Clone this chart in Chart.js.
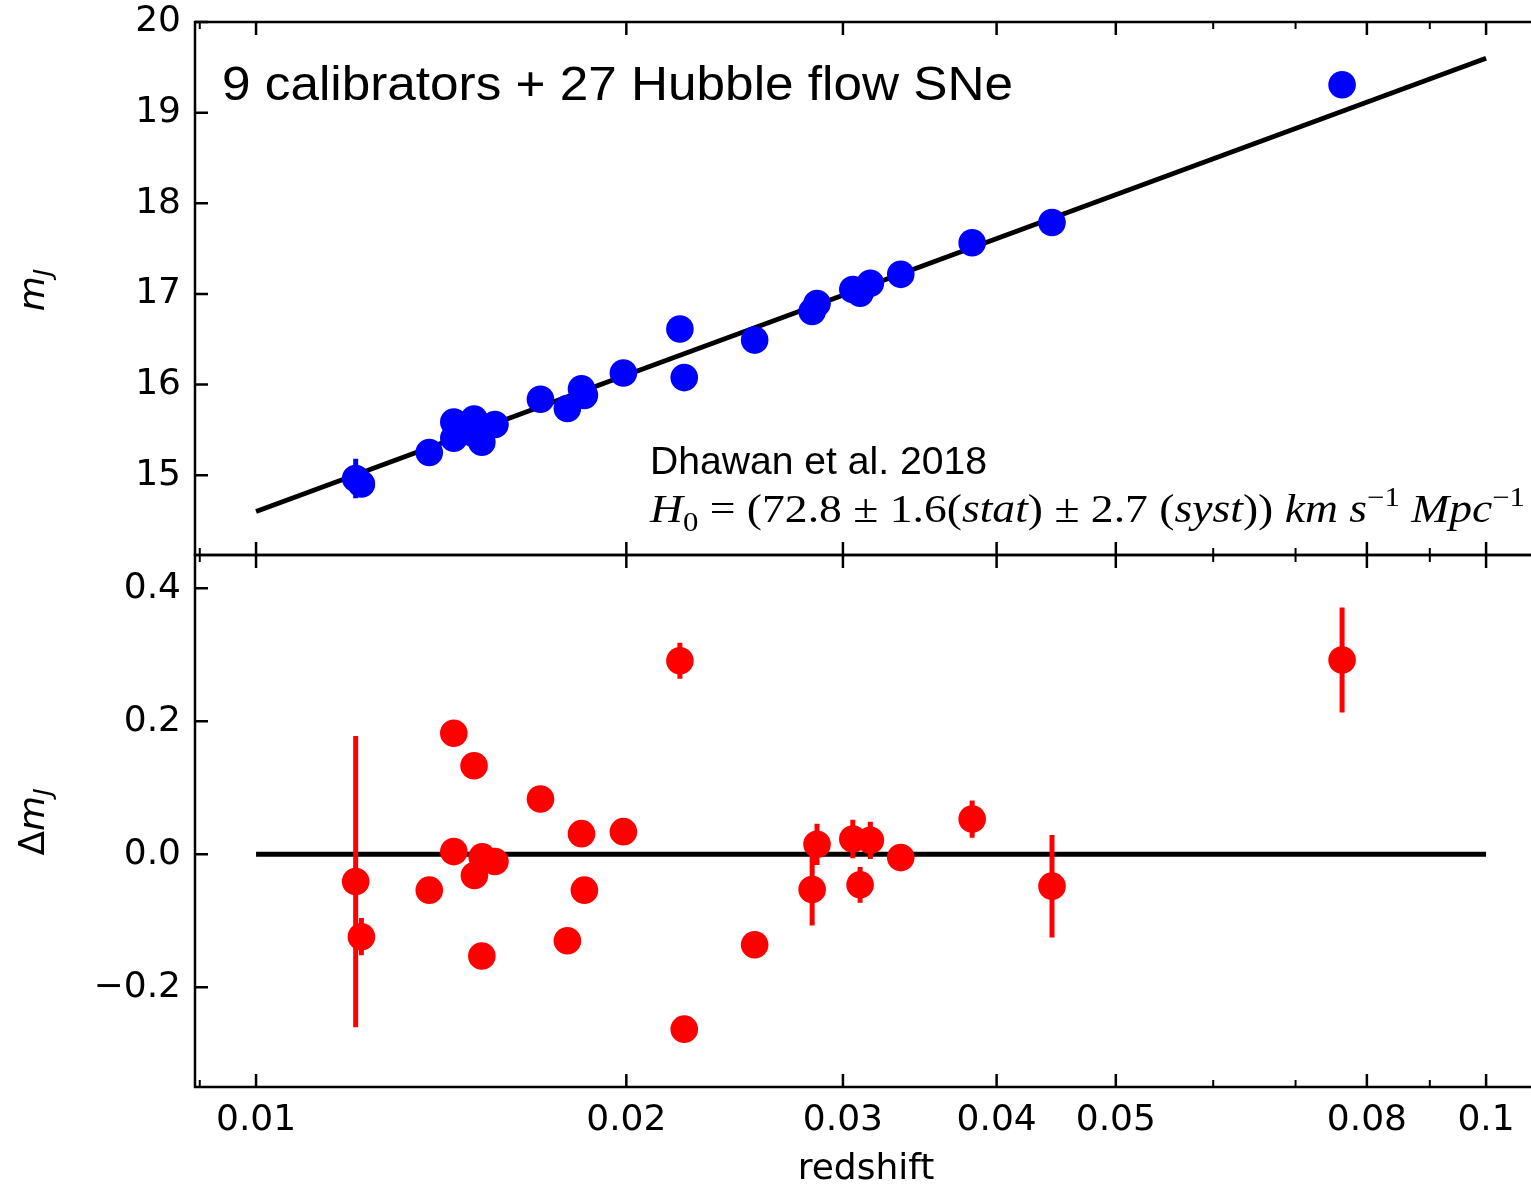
<!DOCTYPE html>
<html>
<head>
<meta charset="utf-8">
<script src="https://cdn.jsdelivr.net/npm/chart.js@4.4.1/dist/chart.umd.min.js"></script>
<style>
html,body{margin:0;padding:0;background:#fff;overflow:hidden;}
#wrap{position:relative;width:1531px;height:1191px;overflow:hidden;background:#fff;}
#c1{position:absolute;left:0;top:-20px;}
#c2{position:absolute;left:0;top:515px;}
</style>
</head>
<body>
<div id="wrap">
<canvas id="c1" width="1560" height="620"></canvas>
<canvas id="c2" width="1560" height="676"></canvas>
</div>
<script>
// ---- data ----
const redshift = [0.01205, 0.01218, 0.01383, 0.01448, 0.01448, 0.01504, 0.01505, 0.01527, 0.01526, 0.01564,
                  0.01703, 0.01791, 0.01839, 0.01849, 0.01989, 0.02211, 0.02229, 0.02543, 0.02832, 0.02858,
                  0.03056, 0.03098, 0.03158, 0.03343, 0.03821, 0.04437, 0.07637];
const mJ       = [14.964, 14.904, 15.251, 15.586, 15.408, 15.619, 15.456, 15.515, 15.365, 15.560,
                  15.839, 15.736, 15.954, 15.881, 16.127, 16.614, 16.077, 16.491, 16.807, 16.895,
                  17.049, 17.009, 17.118, 17.216, 17.564, 17.788, 19.307];
const dmJ      = [-0.041, -0.124, -0.054, 0.182, 0.004, 0.133, -0.032, -0.004, -0.153, -0.011,
                  0.083, -0.130, 0.031, -0.054, 0.034, 0.291, -0.263, -0.136, -0.053, 0.015,
                  0.023, -0.046, 0.021, -0.005, 0.053, -0.048, 0.292];
const errJ     = [0.219, 0.028, 0.012, 0.012, 0.012, 0.012, 0.012, 0.012, 0.012, 0.012,
                  0.012, 0.012, 0.012, 0.012, 0.012, 0.027, 0.012, 0.012, 0.054, 0.031,
                  0.029, 0.027, 0.028, 0.012, 0.028, 0.077, 0.079];
const fitZ     = [0.01, 0.1];
const fitM     = [14.6, 19.6];
const zeroLine = [0, 0];

const xTickValues = [0.01, 0.02, 0.03, 0.04, 0.05, 0.08, 0.1];
const xTickLabels = ['0.01', '0.02', '0.03', '0.04', '0.05', '0.08', '0.1'];
const xMinorTicks = [0.009, 0.06, 0.07, 0.09];
const yTopTicks   = [15, 16, 17, 18, 19, 20];
const yTopLabels  = ['15', '16', '17', '18', '19', '20'];
const yBotTicks   = [-0.2, 0, 0.2, 0.4];
const yBotLabels  = ['\u22120.2', '0.0', '0.2', '0.4'];

const titleText  = '9 calibrators + 27 Hubble flow SNe';
const refText    = 'Dhawan et al. 2018';
const xAxisTitle = 'redshift';

// ---- helpers ----
const TOP_OFF = 20;    // canvas 1 starts 20px above the page
const BOT_OFF = 515;   // canvas 2 starts at y = 515
const TICKFONT = {family: "'DejaVu Sans'", size: 36};
function errData(vals) {
  const out = [];
  redshift.forEach((z, i) => {
    out.push({x: z, y: vals[i] - errJ[i]});
    out.push({x: z, y: vals[i] + errJ[i]});
    out.push({x: z, y: null});
  });
  return out;
}
function drawRuns(ctx, runs, x, y, targetW, center) {
  let total = 0;
  runs.forEach(r => { ctx.font = r.font; r.w = ctx.measureText(r.t).width; total += r.w; });
  const s = targetW ? targetW / total : 1;
  ctx.save();
  ctx.translate(x, y);
  ctx.scale(s, 1);
  let cx = center ? -total / 2 : 0;
  ctx.fillStyle = '#000';
  ctx.textBaseline = 'alphabetic';
  ctx.textAlign = 'left';
  runs.forEach(r => { ctx.font = r.font; ctx.fillText(r.t, cx, r.dy || 0); cx += r.w; });
  ctx.restore();
}
function frameTicks(chart, yTicks) {
  const {ctx, chartArea: a, scales} = chart;
  const xs = scales.x, ys = scales.y;
  ctx.save();
  ctx.strokeStyle = '#000';
  ctx.lineWidth = 2.5;
  ctx.strokeRect(a.left, a.top, a.right - a.left, a.bottom - a.top);
  const drawX = (vals, len, w) => {
    ctx.lineWidth = w;
    ctx.beginPath();
    vals.forEach(v => {
      const px = xs.getPixelForValue(v);
      ctx.moveTo(px, a.bottom); ctx.lineTo(px, a.bottom - len);
      ctx.moveTo(px, a.top); ctx.lineTo(px, a.top + len);
    });
    ctx.stroke();
  };
  drawX(xTickValues, 13, 2.5);
  drawX(xMinorTicks, 7, 2);
  ctx.lineWidth = 2.5;
  ctx.beginPath();
  yTicks.forEach(v => {
    const py = ys.getPixelForValue(v);
    ctx.moveTo(a.left, py); ctx.lineTo(a.left + 13, py);
  });
  ctx.stroke();
  ctx.restore();
}
const fixedY = (ticks) => ({
  afterFit: s => { s.width = 195; },
  afterBuildTicks: s => { s.ticks = ticks.map(v => ({value: v})); }
});

// ---- top panel ----
const topPlugin = {
  id: 'topDeco',
  afterDraw(chart) {
    frameTicks(chart, yTopTicks);
    const ctx = chart.ctx;
    drawRuns(ctx, [{t: titleText, font: "49px 'Liberation Sans'"}], 222, 100 + TOP_OFF, 791);
    drawRuns(ctx, [{t: refText, font: "39px 'Liberation Sans'"}], 650, 474 + TOP_OFF, 337);
    const I = "italic 40px 'Liberation Serif'", N = "40px 'Liberation Serif'", S = "27px 'Liberation Serif'";
    drawRuns(ctx, [
      {t: 'H', font: I}, {t: '0', font: S, dy: 9},
      {t: ' = (72.8 \u00B1 1.6(', font: N}, {t: 'stat', font: I},
      {t: ') \u00B1 2.7 (', font: N}, {t: 'syst', font: I},
      {t: ')) ', font: N}, {t: 'km s', font: I}, {t: '\u22121', font: S, dy: -16},
      {t: ' Mpc', font: I}, {t: '\u22121', font: S, dy: -16}
    ], 650, 522 + TOP_OFF, 875);
    ctx.save();
    ctx.translate(44, 290 + TOP_OFF);
    ctx.rotate(-Math.PI / 2);
    drawRuns(ctx, [{t: 'm', font: "italic 36px 'DejaVu Sans'"}, {t: 'J', font: "italic 25px 'DejaVu Sans'", dy: 7}], 0, 0, 0, true);
    ctx.restore();
  }
};

new Chart(document.getElementById('c1'), {
  type: 'scatter',
  data: {
    datasets: [
      {type: 'line', data: fitZ.map((z, i) => ({x: z, y: fitM[i]})), borderColor: '#000', borderWidth: 5,
       pointRadius: 0, order: 3, borderCapStyle: 'butt'},
      {type: 'line', data: errData(mJ), borderColor: '#0000ff', borderWidth: 5, pointRadius: 0,
       spanGaps: false, order: 2, borderCapStyle: 'butt'},
      {data: redshift.map((z, i) => ({x: z, y: mJ[i]})), backgroundColor: '#0000ff', borderWidth: 0,
       pointRadius: 13.8, pointHoverRadius: 13.8, order: 1}
    ]
  },
  options: {
    responsive: false, animation: false, events: [],
    layout: {autoPadding: false, padding: {left: 0, top: 42, right: 23, bottom: 45}},
    plugins: {legend: {display: false}, tooltip: {enabled: false}},
    scales: {
      x: {type: 'logarithmic', min: 0.00892, max: 0.11, display: false},
      y: Object.assign({
        type: 'linear', min: 14.12, max: 20,
        grid: {display: false, drawTicks: false}, border: {display: false},
        ticks: {font: TICKFONT, color: '#000', padding: 14, callback: (v, i) => yTopLabels[i]}
      }, fixedY(yTopTicks))
    }
  },
  plugins: [topPlugin]
});

// ---- bottom panel ----
const botPlugin = {
  id: 'botDeco',
  afterDraw(chart) {
    frameTicks(chart, yBotTicks);
    const ctx = chart.ctx;
    ctx.save();
    ctx.translate(44, 822 - BOT_OFF);
    ctx.rotate(-Math.PI / 2);
    drawRuns(ctx, [{t: '\u0394', font: "36px 'DejaVu Sans'"}, {t: 'm', font: "italic 36px 'DejaVu Sans'"},
                   {t: 'J', font: "italic 25px 'DejaVu Sans'", dy: 7}], 0, 0, 0, true);
    ctx.restore();
  }
};

new Chart(document.getElementById('c2'), {
  type: 'scatter',
  data: {
    datasets: [
      {type: 'line', data: fitZ.map((z, i) => ({x: z, y: zeroLine[i]})), borderColor: '#000', borderWidth: 5,
       pointRadius: 0, order: 3, borderCapStyle: 'butt'},
      {type: 'line', data: errData(dmJ), borderColor: '#ff0000', borderWidth: 5, pointRadius: 0,
       spanGaps: false, order: 2, borderCapStyle: 'butt'},
      {data: redshift.map((z, i) => ({x: z, y: dmJ[i]})), backgroundColor: '#ff0000', borderWidth: 0,
       pointRadius: 13.8, pointHoverRadius: 13.8, order: 1}
    ]
  },
  options: {
    responsive: false, animation: false, events: [],
    layout: {autoPadding: false, padding: {left: 0, top: 40, right: 23, bottom: 0}},
    plugins: {legend: {display: false}, tooltip: {enabled: false}},
    scales: {
      x: {
        type: 'logarithmic', min: 0.00892, max: 0.11, position: 'bottom',
        grid: {display: false, drawTicks: false}, border: {display: false},
        ticks: {font: TICKFONT, color: '#000', padding: 12, autoSkip: false, maxRotation: 0,
                callback: (v, i) => xTickLabels[i]},
        title: {display: true, text: xAxisTitle, font: TICKFONT, color: '#000', padding: 0},
        afterBuildTicks: s => { s.ticks = xTickValues.map(v => ({value: v})); },
        afterFit: s => { s.height = 104; }
      },
      y: Object.assign({
        type: 'linear', min: -0.35, max: 0.45,
        grid: {display: false, drawTicks: false}, border: {display: false},
        ticks: {font: TICKFONT, color: '#000', padding: 14, callback: (v, i) => yBotLabels[i]}
      }, fixedY(yBotTicks))
    }
  },
  plugins: [botPlugin]
});
</script>
</body>
</html>
